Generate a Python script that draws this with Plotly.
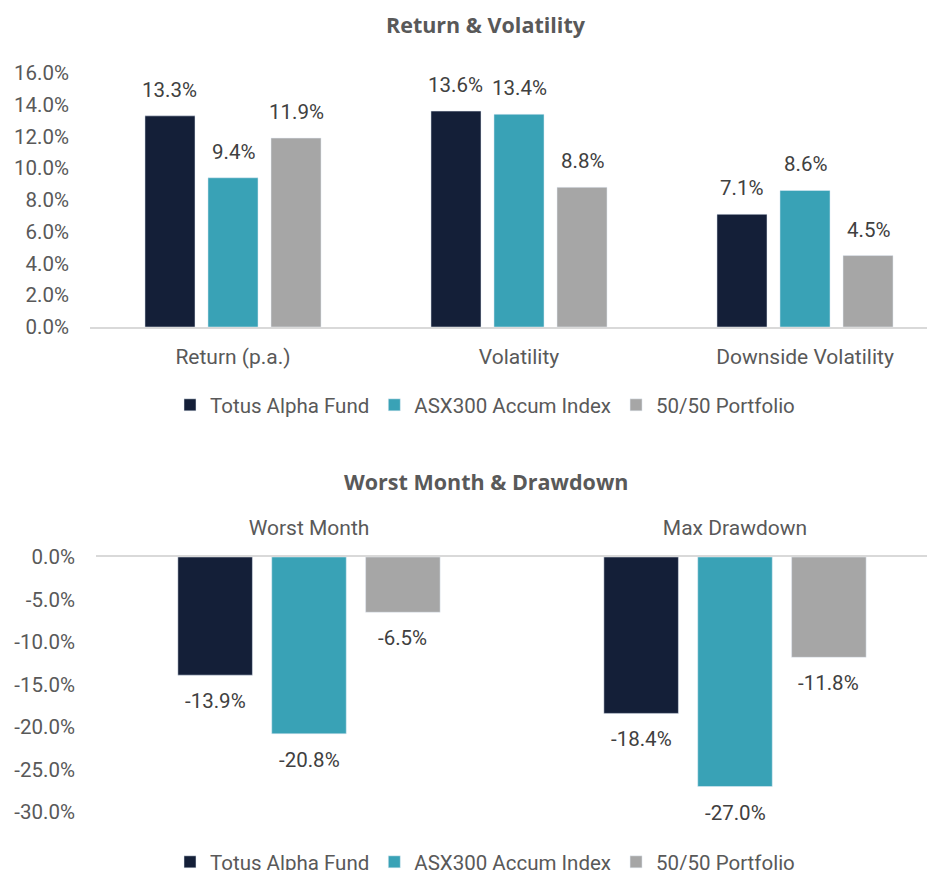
import plotly.graph_objects as go

# ---- data ----
categories_top = ["Return (p.a.)", "Volatility", "Downside Volatility"]
fund_top = [13.3, 13.6, 7.1]
asx_top = [9.4, 13.4, 8.6]
port_top = [11.9, 8.8, 4.5]

categories_bot = ["Worst Month", "Max Drawdown"]
fund_bot = [-13.9, -18.4]
asx_bot = [-20.8, -27.0]
port_bot = [-6.5, -11.8]

series_names = ["Totus Alpha Fund", "ASX300 Accum Index", "50/50 Portfolio"]

ytick_top_vals = [0, 2, 4, 6, 8, 10, 12, 14, 16]
ytick_top_text = ["0.0%", "2.0%", "4.0%", "6.0%", "8.0%", "10.0%", "12.0%", "14.0%", "16.0%"]
ytick_bot_vals = [0, -5, -10, -15, -20, -25, -30]
ytick_bot_text = ["0.0%", "-5.0%", "-10.0%", "-15.0%", "-20.0%", "-25.0%", "-30.0%"]

# ---- style ----
colors = ["#141F38", "#39A2B6", "#A6A6A6"]
OFF = 8                 # default page body margin
W, H = 935 - OFF, 900   # figure size (page viewport crops the bottom)
FONT = "Roboto, Arial, sans-serif"
TFONT = "Open Sans, Arial, sans-serif"
TXT = "#595959"
LBL = "#404040"
AXC = "#D9D9D9"
BARGAP = 0.339
BARGROUPGAP = 0.206
FS = 20.5


def px(xp):
    return (xp - OFF) / W


def py(yp):
    return 1 - (yp - OFF) / H


fig = go.Figure()

top_vals = [fund_top, asx_top, port_top]
bot_vals = [fund_bot, asx_bot, port_bot]

for i, (name, vals) in enumerate(zip(series_names, top_vals)):
    fig.add_trace(go.Bar(x=categories_top, y=vals, name=name, marker_color=colors[i],
                         xaxis="x", yaxis="y", legend="legend", offsetgroup=str(i)))
for i, (name, vals) in enumerate(zip(series_names, bot_vals)):
    fig.add_trace(go.Bar(x=categories_bot, y=vals, name=name, marker_color=colors[i],
                         xaxis="x2", yaxis="y2", legend="legend2", offsetgroup=str(i)))

annotations = []
slot = (1 - BARGAP) / 3
for i, vals in enumerate(top_vals):
    for j, v in enumerate(vals):
        annotations.append(dict(x=j + (i - 1) * slot, y=v, xref="x", yref="y", text=f"{v:.1f}%",
                                showarrow=False, yshift=26, font=dict(family=FONT, size=FS, color=LBL)))
for i, vals in enumerate(bot_vals):
    for j, v in enumerate(vals):
        annotations.append(dict(x=j + (i - 1) * slot, y=v, xref="x2", yref="y2", text=f"{v:.1f}%",
                                showarrow=False, yshift=-26, font=dict(family=FONT, size=FS, color=LBL)))

annotations.append(dict(x=px(486), y=py(24), xref="paper", yref="paper", text="<b>Return & Volatility</b>",
                        xanchor="center", yanchor="middle", showarrow=False,
                        font=dict(family=TFONT, size=21.5, color=TXT)))
annotations.append(dict(x=px(486), y=py(481), xref="paper", yref="paper", text="<b>Worst Month & Drawdown</b>",
                        xanchor="center", yanchor="middle", showarrow=False,
                        font=dict(family=TFONT, size=21.5, color=TXT)))

tickfont = dict(family=FONT, size=FS, color=TXT)
catfont = dict(family=FONT, size=21, color=TXT)

fig.update_layout(
    width=W, height=H, autosize=False,
    margin=dict(l=0, r=0, t=0, b=0),
    paper_bgcolor="white", plot_bgcolor="white",
    barmode="group", bargap=BARGAP, bargroupgap=BARGROUPGAP,
    annotations=annotations,
    xaxis=dict(domain=[px(90), 1], anchor="y", range=[-0.5, (935 - 233) / 286],
               showline=True, linecolor=AXC, linewidth=2, showgrid=False, ticks="",
               tickfont=catfont, ticklabelstandoff=10, automargin=False),
    yaxis=dict(domain=[py(327), py(73)], anchor="x", range=[0, 16],
               tickvals=ytick_top_vals, ticktext=ytick_top_text, showgrid=False, zeroline=False,
               showline=False, tickfont=tickfont, ticklabelstandoff=20, automargin=False),
    xaxis2=dict(domain=[px(96), 1], anchor="y2", side="top", range=[-0.5, (935 - 309) / 426],
                showline=True, linecolor=AXC, linewidth=2, showgrid=False, ticks="",
                tickfont=catfont, ticklabelstandoff=12, automargin=False),
    yaxis2=dict(domain=[py(812), py(557)], anchor="x2", range=[-30, 0],
                tickvals=ytick_bot_vals, ticktext=ytick_bot_text, showgrid=False, zeroline=False,
                showline=False, tickfont=tickfont, ticklabelstandoff=20, automargin=False),
    legend=dict(orientation="h", x=px(485), xanchor="center", y=py(405), yanchor="middle",
                font=tickfont, itemclick=False, traceorder="normal"),
    legend2=dict(orientation="h", x=px(485), xanchor="center", y=py(862), yanchor="middle",
                 font=tickfont, itemclick=False, traceorder="normal"),
)

fig.write_html("out.html")
